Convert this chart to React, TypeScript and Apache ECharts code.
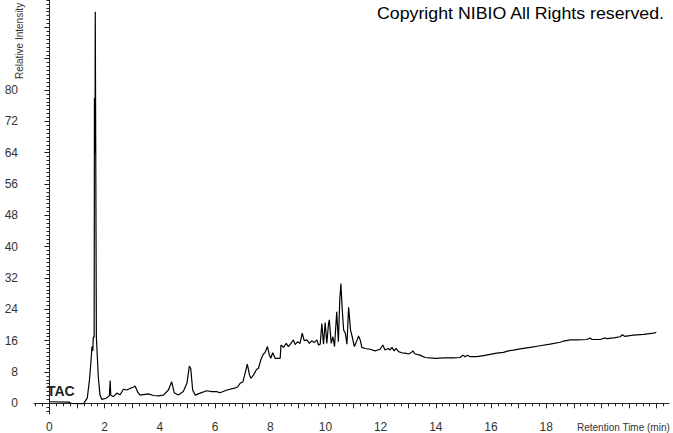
import React, { useEffect, useRef } from "react";
import * as echarts from "echarts";

// Retention time (min)
const retentionTimes = [
  0.0, 0.71, 0.78, 1.23, 1.37, 1.45, 1.5, 1.54, 1.57, 1.59, 1.62, 1.63, 1.65, 1.66, 1.7, 1.77, 1.83, 1.9,
  2.05, 2.17, 2.2, 2.22, 2.32, 2.44, 2.56, 2.68, 2.8, 2.92, 3.04, 3.1, 3.19, 3.28, 3.46, 3.58, 3.77, 3.95,
  4.13, 4.31, 4.43, 4.52, 4.67, 4.85, 4.98, 5.07, 5.12, 5.19, 5.28, 5.46, 5.7, 5.88, 6.06, 6.18, 6.43, 6.67,
  6.81, 6.91, 7.01, 7.09, 7.17, 7.25, 7.3, 7.39, 7.51, 7.57, 7.66, 7.75, 7.81, 7.9, 7.97, 8.02, 8.09, 8.18,
  8.36, 8.39, 8.48, 8.58, 8.66, 8.75, 8.84, 8.9, 8.99, 9.08, 9.16, 9.23, 9.33, 9.42, 9.51, 9.59, 9.69, 9.75,
  9.81, 9.87, 9.93, 9.99, 10.05, 10.11, 10.14, 10.21, 10.27, 10.33, 10.41, 10.47, 10.52, 10.56, 10.61, 10.66,
  10.72, 10.78, 10.84, 10.91, 10.97, 11.05, 11.15, 11.2, 11.26, 11.32, 11.44, 11.62, 11.8, 11.98, 12.08, 12.16,
  12.28, 12.34, 12.41, 12.49, 12.56, 12.65, 12.77, 12.89, 13.01, 13.1, 13.17, 13.25, 13.43, 13.61, 13.79, 13.98,
  14.28, 14.64, 14.88, 14.98, 15.06, 15.15, 15.24, 15.49, 15.73, 15.97, 16.21, 16.45, 16.63, 16.81, 17.06, 17.42,
  17.78, 18.14, 18.51, 18.63, 18.87, 19.11, 19.47, 19.59, 19.66, 19.96, 20.14, 20.2, 20.44, 20.68, 20.76, 20.84,
  21.16, 21.53, 21.89, 21.99,
];

// Relative intensity (%)
const relativeIntensity = [
  0.4, 0.3, 0.0, -0.1, 1.3, 6.0, 10.3, 14.5, 13.4, 16.9, 16.9, 77.9, 63.9, 100, 17.0, 6.8, 2.1, 1.0,
  1.3, 1.9, 5.8, 2.1, 1.7, 2.6, 2.2, 3.6, 3.4, 3.8, 4.1, 4.4, 3.0, 2.1, 2.3, 2.4, 2.0, 1.9,
  2.1, 3.4, 5.5, 2.7, 2.1, 3.0, 5.1, 9.5, 8.9, 3.4, 2.1, 2.6, 3.2, 3.0, 3.0, 2.7, 3.4, 3.8,
  4.1, 5.1, 5.5, 7.7, 10.0, 7.2, 6.4, 7.2, 8.7, 8.9, 11.1, 12.6, 12.9, 14.5, 12.3, 11.5, 12.9, 11.5,
  11.5, 14.9, 14.3, 15.3, 14.5, 15.3, 16.2, 15.0, 15.7, 15.3, 17.9, 16.0, 16.2, 15.3, 16.0, 15.5, 16.2, 14.9,
  15.1, 20.4, 15.1, 20.6, 15.3, 20.2, 21.3, 15.3, 17.0, 14.5, 23.4, 15.7, 26.4, 30.6, 23.8, 18.7,
  17.9, 15.1, 24.5, 18.7, 17.0, 14.5, 16.2, 17.2, 16.2, 14.3, 14.0, 13.8, 13.4, 13.8, 14.9, 13.6,
  14.0, 13.6, 14.3, 13.4, 14.0, 13.2, 12.9, 12.8, 12.6, 12.9, 13.4, 12.6, 12.3, 11.7, 11.6, 11.5,
  11.6, 11.6, 11.7, 12.3, 11.9, 12.3, 11.9, 11.9, 12.2, 12.5, 12.8, 13.0, 13.4, 13.6, 13.9, 14.3,
  14.7, 15.1, 15.6, 15.9, 16.2, 16.2, 16.3, 16.7, 16.3, 16.3, 16.7, 16.5, 16.7, 17.0, 17.5, 17.1,
  17.4, 17.6, 17.9, 18.1,
];

const xLabelValues = [0, 2, 4, 6, 8, 10, 12, 14, 16, 18];
const xMajorTicks = [0, 1, 2, 3, 4, 5, 6, 7, 8, 9, 10, 11, 12, 13, 14, 15, 16, 17, 18, 19, 20, 21, 22];
const yLabelValues = [0, 8, 16, 24, 32, 40, 48, 56, 64, 72, 80];
const yMajorTicks = [0, 8, 16, 24, 32, 40, 48, 56, 64, 72, 80, 88, 96];

const X_MIN = -0.56;
const X_MAX = 22.45;
const Y_MIN = -2.73;
const Y_MAX = 103;

const xMinorTicks: number[] = [];
for (let i = -2; i <= 89; i++) xMinorTicks.push(i * 0.25);
const yMinorTicks: number[] = [];
for (let i = -2; i <= 103; i++) yMinorTicks.push(i);

const FONT = "'Liberation Sans', Arial, sans-serif";
const AXIS_COLOR = "#222";

export default function App() {
  const ref = useRef<HTMLDivElement>(null);

  useEffect(() => {
    if (!ref.current) return;
    const chart = echarts.init(ref.current, null, { renderer: "svg" });
    const data = retentionTimes.map((t, i) => [t, relativeIntensity[i]]);

    const baseX = {
      type: "value",
      min: X_MIN,
      max: X_MAX,
      position: "bottom",
      splitLine: { show: false },
    };
    const baseY = {
      type: "value",
      min: Y_MIN,
      max: Y_MAX,
      position: "left",
      splitLine: { show: false },
    };

    chart.setOption({
      animation: false,
      backgroundColor: "#fff",
      grid: {
        left: 34,
        right: 4,
        top: 0,
        bottom: 19,
        containLabel: false,
        outerBoundsMode: "none",
      },
      xAxis: [
        {
          ...baseX,
          axisLine: { show: true, lineStyle: { color: AXIS_COLOR, width: 1 } },
          axisTick: {
            show: true,
            customValues: xMajorTicks,
            length: 5,
            lineStyle: { color: AXIS_COLOR },
          },
          axisLabel: {
            customValues: xLabelValues,
            margin: 7,
            fontSize: 12,
            color: "#333",
            fontFamily: FONT,
          },
        },
        {
          ...baseX,
          axisLine: { show: false },
          axisTick: {
            show: true,
            customValues: xMinorTicks,
            length: 3,
            lineStyle: { color: AXIS_COLOR },
          },
          axisLabel: { show: false },
        },
      ],
      yAxis: [
        {
          ...baseY,
          axisLine: { show: true, lineStyle: { color: AXIS_COLOR, width: 1 } },
          axisTick: {
            show: true,
            customValues: yMajorTicks,
            length: 5,
            lineStyle: { color: AXIS_COLOR },
          },
          axisLabel: {
            customValues: yLabelValues,
            margin: 16,
            fontSize: 12,
            color: "#333",
            fontFamily: FONT,
          },
        },
        {
          ...baseY,
          axisLine: { show: false },
          axisTick: {
            show: true,
            customValues: yMinorTicks,
            length: 3,
            lineStyle: { color: AXIS_COLOR },
          },
          axisLabel: { show: false },
        },
      ],
      series: [
        {
          type: "line",
          xAxisIndex: 0,
          yAxisIndex: 0,
          data,
          symbol: "none",
          showSymbol: false,
          smooth: false,
          lineStyle: { color: "#000", width: 1.2 },
        },
      ],
      graphic: [
        {
          type: "text",
          x: 377,
          y: 14,
          scaleX: 1.11,
          style: {
            text: "Copyright NIBIO All Rights reserved.",
            fontSize: 16,
            fontFamily: FONT,
            fill: "#000",
            align: "left",
            verticalAlign: "middle",
          },
        },
        {
          type: "text",
          x: 47,
          y: 391,
          style: {
            text: "TAC",
            fontSize: 14,
            fontWeight: "bold",
            fontFamily: FONT,
            fill: "#222",
            align: "left",
            verticalAlign: "middle",
          },
        },
        {
          type: "text",
          x: 577,
          y: 427,
          style: {
            text: "Retention Time (min)",
            fontSize: 10,
            fontFamily: FONT,
            fill: "#333",
            align: "left",
            verticalAlign: "middle",
          },
        },
        {
          type: "text",
          x: 19,
          y: 79,
          rotation: Math.PI / 2,
          style: {
            text: "Relative Intensity",
            fontSize: 10,
            fontFamily: FONT,
            fill: "#333",
            align: "left",
            verticalAlign: "middle",
          },
        },
      ],
    });

    return () => chart.dispose();
  }, []);

  return (
    <div
      ref={ref}
      style={{ position: "fixed", left: 0, top: 0, width: 673, height: 433, background: "#fff" }}
    />
  );
}
